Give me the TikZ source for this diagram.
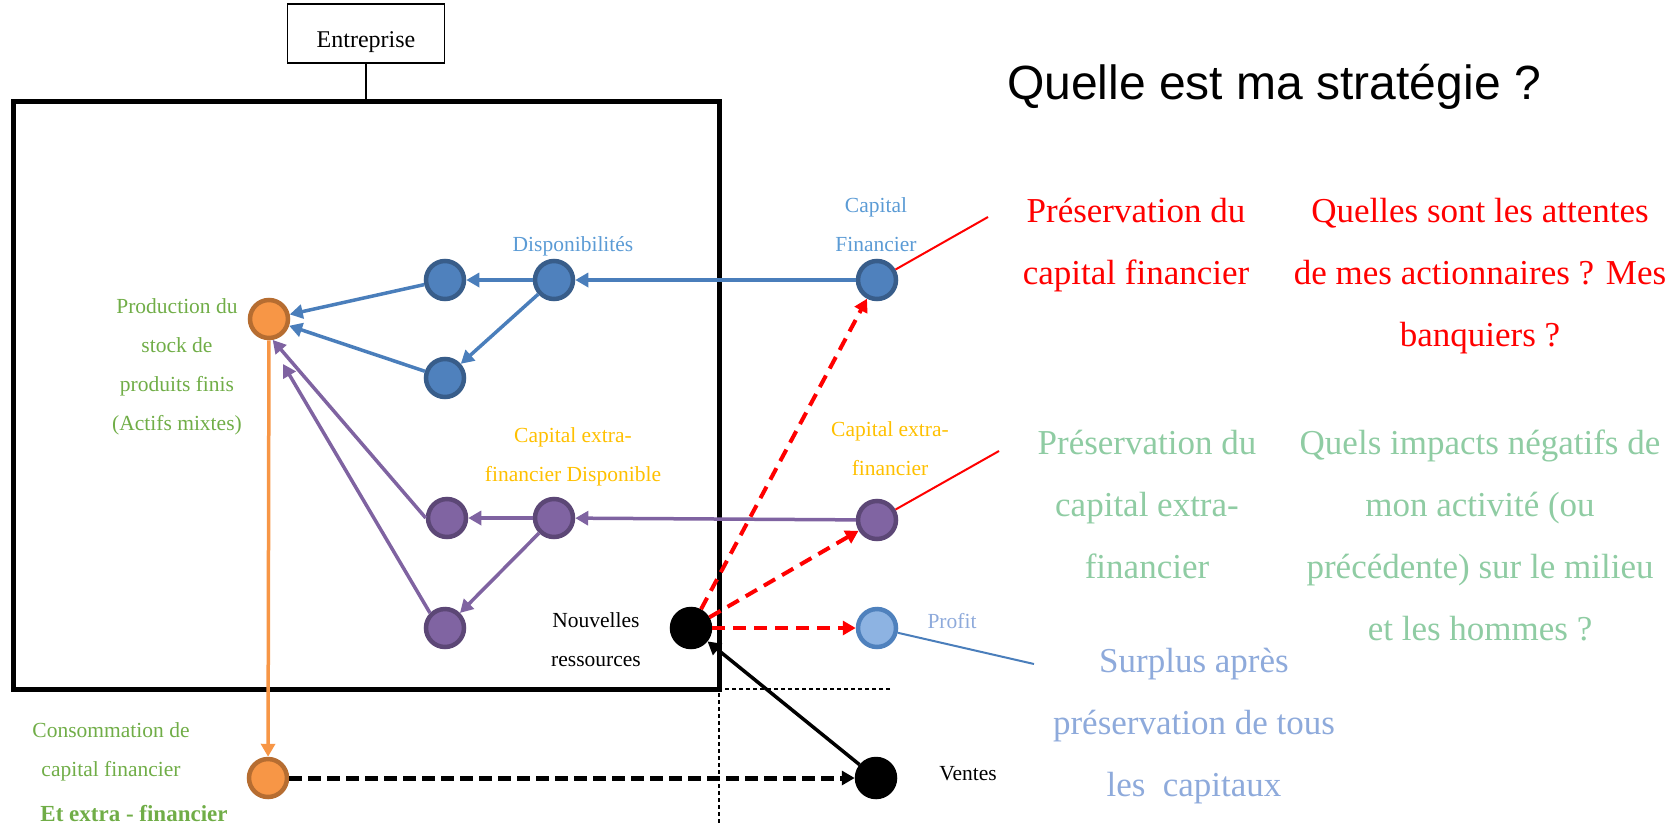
\documentclass[tikz,border=0pt]{standalone}
\usepackage{fontspec}
\setmainfont{Liberation Serif}
\newfontfamily\arialfont{Liberation Sans}
\usetikzlibrary{arrows.meta,calc}
\definecolor{bfill}{HTML}{4F81BD}
\definecolor{bdraw}{HTML}{385D8A}
\definecolor{bline}{HTML}{4A7EBB}
\definecolor{pfill}{HTML}{8064A2}
\definecolor{pdraw}{HTML}{5C4776}
\definecolor{pline}{HTML}{7F63A1}
\definecolor{ofill}{HTML}{F79646}
\definecolor{odraw}{HTML}{B66D31}
\definecolor{prfill}{HTML}{8DB3E2}
\definecolor{lblue}{HTML}{5B9BD5}
\definecolor{plblue}{HTML}{8EAADB}
\definecolor{lgreen}{HTML}{70AD47}
\definecolor{gold}{HTML}{FFC000}
\definecolor{mint}{HTML}{8FCCA3}
\definecolor{rred}{HTML}{FF0000}
\begin{document}
\begin{tikzpicture}[x=1pt,y=-1pt,
  dot/.style={circle,minimum size=38pt,inner sep=0pt,line width=4.5pt},
  bdot/.style={dot,fill=bfill,draw=bdraw},
  pdot/.style={dot,fill=pfill,draw=pdraw},
  odot/.style={dot,fill=ofill,draw=odraw},
  kdot/.style={dot,fill=black,draw=black},
  prdot/.style={dot,fill=prfill,draw=bfill},
  tip/.style={-{Triangle[length=13pt,width=14pt]}},
  barrow/.style={tip,draw=bline,line width=3.5pt},
  parrow/.style={tip,draw=pline,line width=3.5pt},
  oarrow/.style={tip,draw=ofill,line width=3.5pt},
  rarrow/.style={tip,draw=rred,line width=4pt,dash pattern=on 13pt off 8pt},
  karrow/.style={tip,draw=black,line width=3.5pt},
  kdarrow/.style={tip,draw=black,line width=5pt,dash pattern=on 13pt off 6pt},
  thindash/.style={draw=black,line width=1.5pt,dash pattern=on 4pt off 3pt},
  lbl/.style={anchor=base,align=center,inner sep=0pt,font=\fontsize{21.5}{38.8}\selectfont},
  big/.style={anchor=base,align=center,inner sep=0pt,font=\fontsize{35}{62}\selectfont},
]
\useasboundingbox (0,0) rectangle (1680,825);

% title
\node[anchor=base,inner sep=0pt,font=\arialfont\fontsize{48}{58}\selectfont] (title) at (1274,99) {Quelle est ma stratégie ?};

% enterprise
\node[draw,line width=1.5pt,minimum width=157pt,minimum height=59pt,inner sep=0pt,
      text height=27pt,text depth=0pt,font=\fontsize{24}{28}\selectfont] (ent) at (366,33.5) {Entreprise};
\node[draw,line width=5pt,minimum width=706pt,minimum height=588pt,inner sep=0pt,outer sep=0pt] (firm) at (366,395) {};
\draw[line width=2pt] (ent.south) -- (firm.north);

% dashed guides
\coordinate (dh) at (890,689);
\coordinate (dv) at (719,825);
\draw[thindash] (dh) -- (firm.south east) -- (dv);

% circles
\node[bdot] (B1) at (445,280) {};
\node[bdot] (B2) at (554,280) {};
\node[bdot] (B3) at (445,378) {};
\node[bdot] (CF) at (877,280) {};
\node[odot] (O1) at (269,319) {};
\node[odot] (O2) at (268,778) {};
\node[pdot] (P1) at (447,518) {};
\node[pdot] (P2) at (554,518) {};
\node[pdot] (P3) at (445,628) {};
\node[pdot] (CE) at (877,520) {};
\node[kdot] (NR) at (691,628) {};
\node[kdot] (V) at (876,778) {};
\node[prdot] (PR) at (877,628) {};

% blue arrows
\draw[barrow] (CF) -- (B2);
\draw[barrow] (B2) -- (B1);
\draw[barrow] (B2) -- (B3);
\draw[barrow] (B1) -- (O1);
\draw[barrow] (B3) -- (O1);

% purple arrows
\coordinate (O1t) at ($(O1)+(14,45)$);
\draw[parrow] (CE) -- (P2);
\draw[parrow] (P2) -- (P1);
\draw[parrow] (P2) -- (P3);
\draw[parrow] (P1.west) -- (O1.-80);
\draw[parrow] (P3.north west) -- (O1t);

% orange and black
\draw[oarrow] (O1) -- (O2);
\draw[kdarrow] (O2) -- (V);
\draw[karrow] (V) -- (NR);

% red dashed
\draw[rarrow] (NR) -- (CF);
\draw[rarrow] (NR) -- (CE);
\draw[rarrow] (NR) -- (PR);

% thin pointers
\coordinate (r1) at (988,217);
\coordinate (r2) at (999,451);
\coordinate (r3) at (1034,664);
\draw[rred,line width=2pt] (CF) -- (r1);
\draw[rred,line width=2pt] (CE) -- (r2);
\draw[bline,line width=2pt] (PR) -- (r3);

% small labels (anchor = baseline of last line)
\node[lbl,text=lblue] (disp) at (573,251) {Disponibilités};
\node[lbl,text=lblue] (cfl) at (876,251) {Capital\\Financier};
\node[lbl,text=lgreen] (prodl) at (177,430) {Production du\\stock de\\produits finis\\(Actifs mixtes)};
\node[lbl,text=gold] (cedl) at (573,481) {Capital extra-\\financier Disponible};
\node[lbl,text=gold] (cel) at (890,475) {Capital extra-\\financier};
\node[lbl] (nrl) at (596,666) {Nouvelles\\ressources};
\node[lbl,text=plblue] (prl) at (952,628) {Profit};
\node[lbl] (vl) at (968,780) {Ventes};
\node[lbl,text=lgreen] (consl) at (111,776) {Consommation de\\capital financier};
\node[lbl,text=lgreen,font=\bfseries\fontsize{23}{28}\selectfont] (etl) at (134,821) {Et extra - financier};

% big texts
\node[big,text=rred] (pcf) at (1136,284) {Préservation du\\capital financier};
\node[big,text=rred] (q1) at (1480,346) {Quelles sont les attentes\\de mes actionnaires ? Mes\\banquiers ?};
\node[big,text=mint] (pce) at (1147,578) {Préservation du\\capital extra-\\financier};
\node[big,text=mint] (q2) at (1480,640) {Quels impacts négatifs de\\mon activité (ou\\précédente) sur le milieu\\et les hommes ?};
\node[big,text=plblue] (sur) at (1194,796) {Surplus après\\préservation de tous\\les~~capitaux};
\end{tikzpicture}
\end{document}
